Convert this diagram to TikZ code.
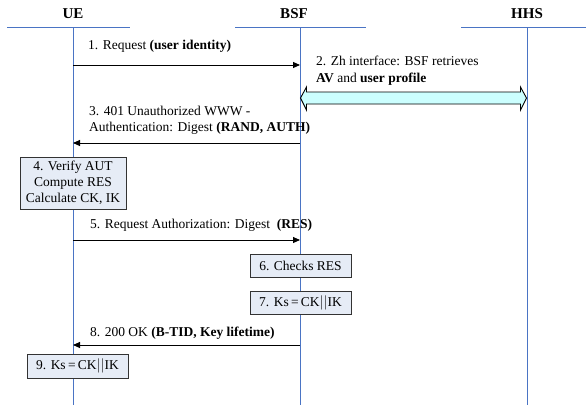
\documentclass[tikz,border=0pt]{standalone}
\usepackage{fontspec}
\setmainfont{Liberation Serif}
\usetikzlibrary{arrows.meta}
\definecolor{lifeblue}{HTML}{4A74C4}
\definecolor{boxfill}{HTML}{E6ECF6}
\definecolor{zhfill}{HTML}{CCFFFF}
\begin{document}
\begin{tikzpicture}[x=1pt,y=-1pt,
  hdr/.style={font=\fontsize{15}{17}\selectfont\bfseries, inner sep=0pt},
  life/.style={draw=lifeblue, line width=1pt},
  msg/.style={draw=black, line width=0.9pt, -{Triangle[length=7pt,width=6pt]}},
  lbl/.style={font=\fontsize{13.5}{16}\selectfont, inner sep=0pt, anchor=west, align=left},
  procbox/.style={draw=black!80, line width=0.9pt, fill=boxfill, font=\fontsize{13.5}{16}\selectfont, inner sep=0pt, align=center}]
\useasboundingbox (0,0) rectangle (586,405);
% headers
\node[hdr] (ue) at (73,14) {UE};
\node[hdr] (bsf) at (294,14) {BSF};
\node[hdr] (hhs) at (527,14) {HHS};
\draw[life] (7,27) -- (130,27);
\draw[life] (235,27) -- (366,27);
\draw[life] (461,27) -- (586,27);
% lifelines
\coordinate (ueT) at (73,27); \coordinate (ueB) at (73,405);
\coordinate (bsfT) at (300,27); \coordinate (bsfB) at (300,405);
\coordinate (hhsT) at (527,27); \coordinate (hhsB) at (527,405);
\draw[life] (ueT) -- (ueB);
\draw[life] (bsfT) -- (bsfB);
\draw[life] (hhsT) -- (hhsB);
% message 1
\coordinate (m1a) at (73,65); \coordinate (m1b) at (300,65);
\draw[msg] (m1a) -- (m1b);
\node[lbl] (l1) at (88,46) {1. Request \textbf{(user identity)}};
% message 2 (Zh)
\node[lbl, font=\fontsize{13.5}{17}\selectfont] (l2) at (316,70.5) {2. Zh interface: BSF retrieves\\\textbf{AV} and \textbf{user profile}};
\draw[black, line width=0.9pt, fill=zhfill] (300.5,98) -- (306.5,87) -- (306.5,92) -- (520.5,92) -- (520.5,87) -- (526.5,98) -- (520.5,110) -- (520.5,104) -- (306.5,104) -- (306.5,110) -- cycle;
% message 3
\coordinate (m3a) at (300,143); \coordinate (m3b) at (73,143);
\draw[msg] (m3a) -- (m3b);
\node[lbl] (l3) at (89,120) {3. 401 Unauthorized WWW -\\Authentication: Digest \textbf{(RAND, AUTH)}};
% box 4
\node[procbox, minimum width=106pt, minimum height=52pt] (b4) at (73,183) {4. Verify AUT\\Compute RES\\Calculate CK, IK};
% message 5
\coordinate (m5a) at (73,240); \coordinate (m5b) at (300,240);
\draw[msg] (m5a) -- (m5b);
\node[lbl] (l5) at (90,225) {5. Request Authorization: Digest \ \textbf{(RES)}};
% box 6, 7
\node[procbox, minimum width=101pt, minimum height=23pt] (b6) at (300.5,265.5) {6. Checks RES};
\node[procbox, minimum width=101pt, minimum height=23pt] (b7) at (300.5,302.5) {7. Ks\,=\,CK$|$$|$IK};
% message 8
\coordinate (m8a) at (300,345); \coordinate (m8b) at (73,345);
\draw[msg] (m8a) -- (m8b);
\node[lbl] (l8) at (90,333) {8. 200 OK \textbf{(B-TID, Key lifetime)}};
% box 9
\node[procbox, minimum width=101pt, minimum height=24pt] (b9) at (77.5,366) {9. Ks\,=\,CK$|$$|$IK};
\end{tikzpicture}
\end{document}
